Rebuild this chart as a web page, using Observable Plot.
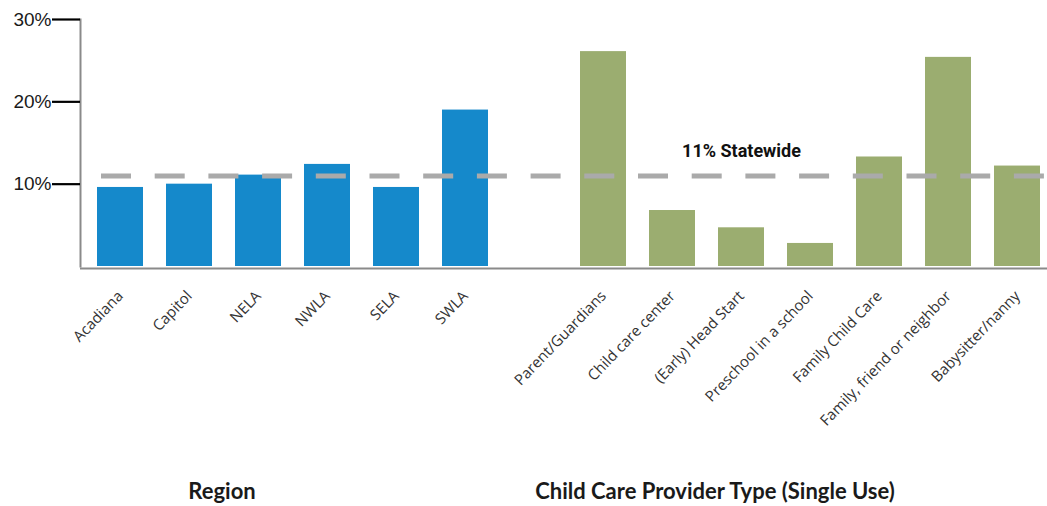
<!DOCTYPE html>
<html>
<head>
<meta charset="utf-8">
<script src="https://cdn.jsdelivr.net/npm/d3@7"></script>
<script src="https://cdn.jsdelivr.net/npm/@observablehq/plot@0.6"></script>
<style>
  html, body { margin: 0; padding: 0; background: #fff; }
  #wrap { position: relative; width: 1047px; height: 506px; overflow: hidden; }
  .title { position: absolute; top: 479px; transform: translateX(-50%); font-family: Lato, sans-serif; font-weight: 700; font-size: 22px; color: #1a1a1a; white-space: nowrap; line-height: 24px; }
</style>
</head>
<body>
<div id="wrap">
  <div id="chart"></div>
  <div class="title" id="t1" style="left:222px"></div>
  <div class="title" id="t2" style="left:715px"></div>
</div>
<script>
const regions = ["Acadiana", "Capitol", "NELA", "NWLA", "SELA", "SWLA"];
const regionValues = [9.6, 10.0, 11.1, 12.4, 9.6, 19.0];
const providers = ["Parent/Guardians", "Child care center", "(Early) Head Start", "Preschool in a school", "Family Child Care", "Family, friend or neighbor", "Babysitter/nanny"];
const providerValues = [26.1, 6.8, 4.7, 2.8, 13.3, 25.4, 12.2];
const statewide = 11;
const statewideLabel = "11% Statewide";
const yTicks = [10, 20, 30];
const groupTitles = ["Region", "Child Care Provider Type (Single Use)"];

const gap = "\u2007";
const domain = [...regions, gap, ...providers];
const data = [
  ...regions.map((c, i) => ({cat: c, value: regionValues[i], group: "region"})),
  ...providers.map((c, i) => ({cat: c, value: providerValues[i], group: "provider"}))
];

const chart = Plot.plot({
  width: 1047,
  height: 460,
  marginLeft: 80,
  marginRight: 0,
  marginTop: 19,
  marginBottom: 194,
  style: {background: "#fff"},
  x: {domain, range: [80, 1057], paddingInner: 0.34, paddingOuter: 0.17, axis: null, label: null},
  y: {domain: [0, 30], range: [266, 19], axis: null, label: null},
  color: {domain: ["region", "provider"], range: ["#1589cb", "#9bad70"]},
  marks: [
    Plot.barY(data, {x: "cat", y: "value", fill: "group"}),
    Plot.ruleY([statewide], {stroke: "#aaaaaa", strokeWidth: 5, strokeDasharray: "30,23.7", insetLeft: 21}),
    Plot.text([statewide], {x: () => providers[2], y: d => d, text: () => statewideLabel, dy: -25, fontFamily: "Roboto, sans-serif", fontWeight: 700, fontSize: 18, fill: "#111"}),
    Plot.ruleY([0], {stroke: "#8a8a8a", strokeWidth: 2, dy: 2}),
    Plot.frame({anchor: "left", stroke: "#8a8a8a", strokeWidth: 2}),
    Plot.axisY(yTicks, {label: null, tickSize: 28, tickPadding: 1, tickFormat: d => d + "%", stroke: "#000", strokeWidth: 2.2, fontSize: 19, fontFamily: "'Liberation Sans', Arial, sans-serif", fill: "#1a1a1a", strokeOpacity: 1}),
    Plot.axisX(domain, {label: null, tickRotate: -46, tickSize: 0, tickPadding: 27, tickFormat: d => d === gap ? "" : d, fontSize: 15, fontFamily: "'Open Sans', sans-serif", fill: "#333"})
  ]
});
document.getElementById("chart").appendChild(chart);
document.getElementById("t1").textContent = groupTitles[0];
document.getElementById("t2").textContent = groupTitles[1];
</script>
</body>
</html>
